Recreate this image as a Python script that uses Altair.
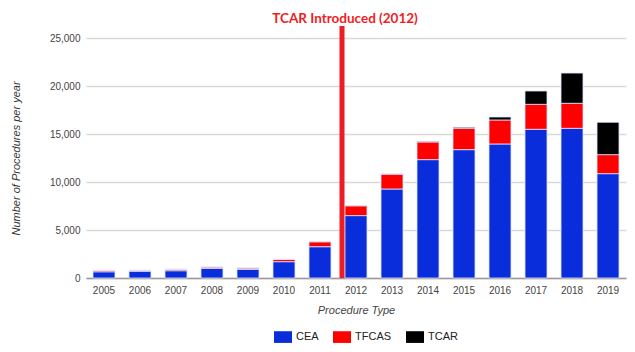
import altair as alt
import pandas as pd

years = [str(y) for y in range(2005, 2020)]
cea = [650, 700, 760, 1000, 900, 1700, 3260, 6500, 9270, 12330, 13370, 13960, 15490, 15590, 10870]
tfcas = [140, 90, 140, 140, 140, 240, 520, 1030, 1560, 1840, 2230, 2500, 2600, 2610, 1980]
tcar = [0, 0, 0, 0, 0, 0, 0, 0, 0, 60, 100, 310, 1390, 3150, 3370]
series = ["CEA", "TFCAS", "TCAR"]
colors = ["#0a2ddc", "#ff0000", "#000000"]

marker_year = ["2012"]
marker_top = [26250]
marker_label = ["TCAR Introduced (2012)"]

rows = []
for i, y in enumerate(years):
    for k, (name, vals) in enumerate(zip(series, [cea, tfcas, tcar])):
        rows.append({"year": y, "type": name, "value": vals[i], "ord": k})
df = pd.DataFrame(rows)
mk = pd.DataFrame({"year": marker_year, "top": marker_top, "label": marker_label, "zero": [0]})

xscale = alt.Scale(paddingInner=0.389, paddingOuter=0.194)
yscale = alt.Scale(domain=[0, 25000], nice=False)

bars = alt.Chart(df).mark_bar(stroke="#dde3ff", strokeWidth=0.8).encode(
    x=alt.X("year:O", scale=xscale, sort=years,
            axis=alt.Axis(title="Procedure Type", labelAngle=0, labelFont="Liberation Sans",
                          labelFontSize=10, labelColor="#444", ticks=False, domainColor="#999",
                          domainWidth=1.5, labelPadding=7, titleFont="Liberation Sans",
                          titleFontSize=11, titleFontStyle="italic", titleFontWeight="normal",
                          titleColor="#444", titlePadding=9)),
    y=alt.Y("value:Q", stack="zero", scale=yscale,
            axis=alt.Axis(title="Number of Procedures per year", values=list(range(0, 25001, 2500)),
                          labelExpr="datum.value % 5000 === 0 ? format(datum.value, ',') : ''",
                          gridColor={"condition": {"test": "datum.value % 5000 === 0", "value": "#d9d9d9"}, "value": "#f0f0f0"},
                          gridWidth=1.3, domain=False, ticks=False, labelFont="Liberation Sans",
                          labelFontSize=10, labelColor="#444", labelPadding=6,
                          titleFont="Liberation Sans", titleFontSize=11, titleFontStyle="italic",
                          titleFontWeight="normal", titleColor="#333", titlePadding=28)),
    color=alt.Color("type:N", scale=alt.Scale(domain=series, range=colors), sort=series,
                    legend=alt.Legend(title=None, orient="none", direction="horizontal",
                                      legendX=188, legendY=290, symbolType="M-1,-0.65H1V0.65H-1Z",
                                      symbolSize=324, symbolStrokeWidth=0, labelFont="Liberation Sans",
                                      labelFontSize=11, labelColor="#222", columnPadding=14,
                                      labelOffset=4, symbolOffset=0)),
    order=alt.Order("ord:Q", sort="ascending"),
)

rule = alt.Chart(mk).mark_rule(color="#ee1c25", strokeWidth=5, xOffset=-3).encode(
    x=alt.X("year:O", sort=years, bandPosition=0),
    y=alt.Y("top:Q", scale=yscale),
    y2="zero:Q",
)

label = alt.Chart(mk).mark_text(color="#f01d25", font="Lato", fontSize=13.5, fontWeight="bold",
                                baseline="middle", xOffset=0).encode(
    x=alt.X("year:O", sort=years, bandPosition=0),
    y=alt.value(-19),
    text="label:N",
)

chart = alt.layer(bars, rule, label).properties(
    width=540, height=240,
    autosize=alt.AutoSizeParams(type="none"),
    padding={"left": 86, "top": 38, "right": 9, "bottom": 74},
    background="white",
).configure_view(stroke=None)

chart.save("out.html", embed_options={"renderer": "svg", "actions": False})
